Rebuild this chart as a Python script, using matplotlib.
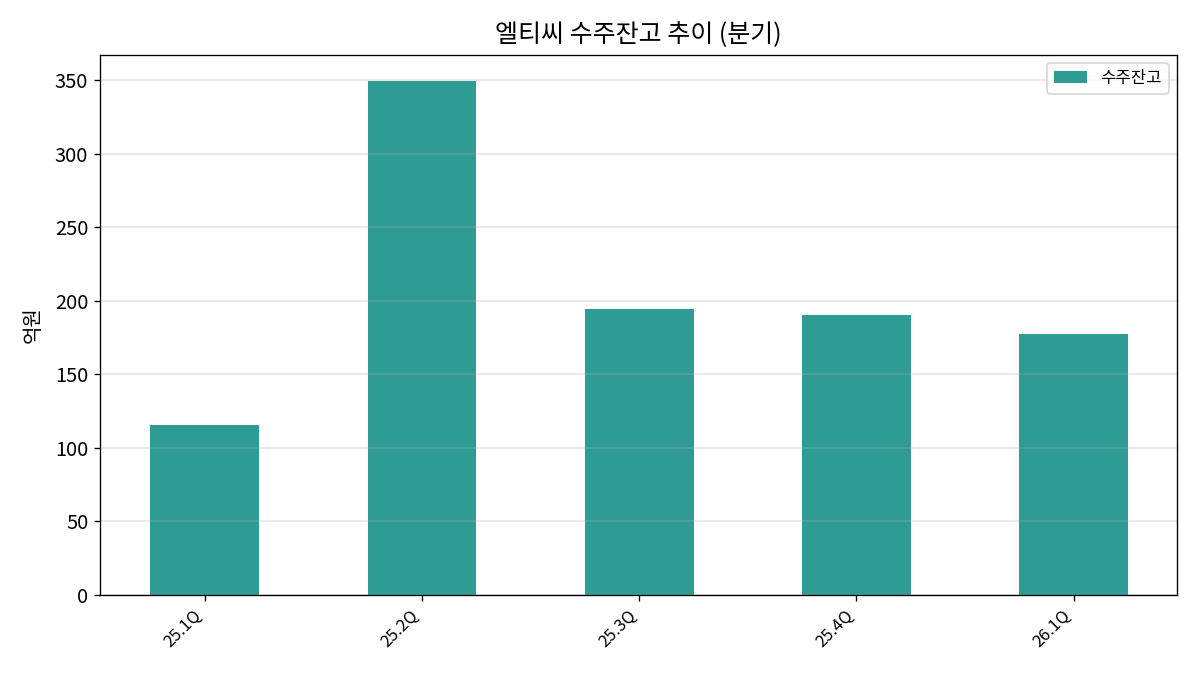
import matplotlib
matplotlib.use("Agg")
import matplotlib.pyplot as plt

plt.rcParams['font.family'] = ['Noto Sans CJK KR', 'DejaVu Sans']

quarters = ["25.1Q", "25.2Q", "25.3Q", "25.4Q", "26.1Q"]
backlog = [115.4, 349.5, 194.4, 190.3, 177.4]

fig = plt.figure(figsize=(10, 5.625), dpi=120)
ax = fig.add_axes([0.0833, 0.1185, 0.8975, 0.8])
x = list(range(len(quarters)))
ax.bar(x, backlog, width=0.5, color='#2f9b95', label='수주잔고')
ax.set_xlim(-0.482, len(quarters) - 0.525)
ax.set_xticks(x)
ax.set_xticklabels(quarters, rotation=45, ha='right', fontsize=10)
ax.tick_params(axis='y', labelsize=12)
ax.set_ylabel('억원', fontsize=12, labelpad=7)
ax.set_title('엘티씨 수주잔고 추이 (분기)', fontsize=15, pad=8)
ax.grid(axis='y', color='#b0b0b0', alpha=0.3, linewidth=1)
ax.legend(loc='upper right', fontsize=10)
fig.savefig('out.png', dpi=120)
